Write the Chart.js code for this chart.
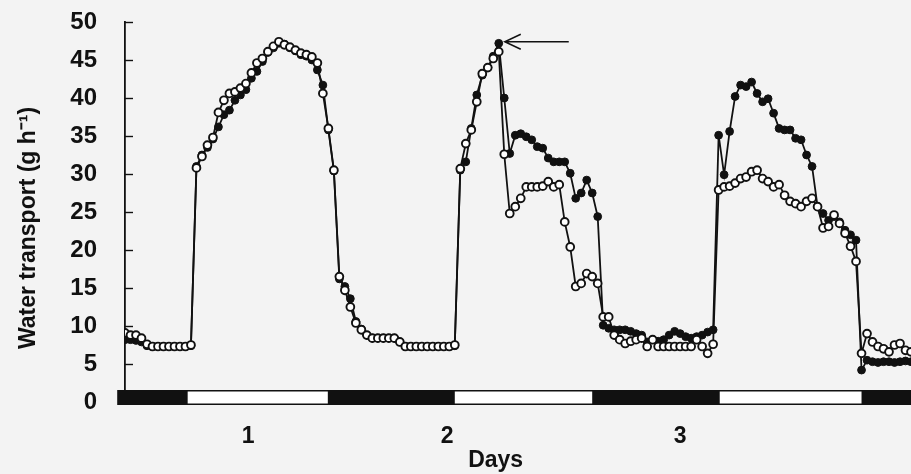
<!DOCTYPE html>
<html>
<head>
<meta charset="utf-8">
<title>Water transport</title>
<script src="https://cdn.jsdelivr.net/npm/chart.js@4.4.0/dist/chart.umd.min.js"></script>
<style>
  html, body { margin: 0; padding: 0; background: #f3f3f3; }
  #wrap { position: relative; width: 911px; height: 474px; }
</style>
</head>
<body>
<div id="wrap"><canvas id="waterChart"></canvas></div>
<script>
// sampling times (hours from start of record, every 30 min)
const hours = [
  0, 0.5, 1, 1.5, 2, 2.5, 3, 3.5, 4, 4.5, 5, 5.5,
  6, 6.5, 7, 7.5, 8, 8.5, 9, 9.5, 10, 10.5, 11, 11.5,
  12, 12.5, 13, 13.5, 14, 14.5, 15, 15.5, 16, 16.5, 17, 17.5,
  18, 18.5, 19, 19.5, 20, 20.5, 21, 21.5, 22, 22.5, 23, 23.5,
  24, 24.5, 25, 25.5, 26, 26.5, 27, 27.5, 28, 28.5, 29, 29.5,
  30, 30.5, 31, 31.5, 32, 32.5, 33, 33.5, 34, 34.5, 35, 35.5,
  36, 36.5, 37, 37.5, 38, 38.5, 39, 39.5, 40, 40.5, 41, 41.5,
  42, 42.5, 43, 43.5, 44, 44.5, 45, 45.5, 46, 46.5, 47, 47.5,
  48, 48.5, 49, 49.5, 50, 50.5, 51, 51.5, 52, 52.5, 53, 53.5,
  54, 54.5, 55, 55.5, 56, 56.5, 57, 57.5, 58, 58.5, 59, 59.5,
  60, 60.5, 61, 61.5, 62, 62.5, 63, 63.5, 64, 64.5, 65, 65.5,
  66, 66.5, 67, 67.5, 68, 68.5, 69, 69.5, 70, 70.5, 71, 71.5
];

// open circles
const openSeries = [
  9.1, 8.8, 8.8, 8.4, 7.6, 7.3, 7.3, 7.3, 7.3, 7.3, 7.3, 7.3,
  7.5, 30.8, 32.3, 33.8, 34.8, 38.1, 39.7, 40.6, 40.8, 41.3, 41.9, 43.3,
  44.6, 45.2, 46.1, 46.8, 47.4, 47.0, 46.7, 46.3, 45.9, 45.7, 45.4, 44.6,
  40.6, 36.0, 30.5, 16.5, 14.7, 12.5, 10.4, 9.5, 8.8, 8.4, 8.4, 8.4,
  8.4, 8.4, 7.9, 7.3, 7.3, 7.3, 7.3, 7.3, 7.3, 7.3, 7.3, 7.3,
  7.5, 30.7, 34.0, 35.8, 39.5, 43.2, 44.0, 45.2, 46.1, 32.6, 24.8, 25.7,
  26.8, 28.3, 28.3, 28.3, 28.4, 29.0, 28.3, 28.6, 23.7, 20.4, 15.2, 15.6,
  16.9, 16.5, 15.6, 11.2, 11.2, 8.8, 8.2, 7.7, 8.0, 8.2, 8.4, 7.3,
  8.2, 7.3, 7.3, 7.3, 7.3, 7.3, 7.3, 7.3, 8.2, 7.3, 6.4, 7.6,
  27.9, 28.3, 28.4, 28.8, 29.4, 29.6, 30.3, 30.5, 29.4, 29.0, 28.3, 28.6,
  27.2, 26.4, 26.1, 25.7, 26.4, 26.8, 25.7, 22.9, 23.1, 24.6, 23.5, 22.2,
  20.5, 18.5, 6.4, 9.0, 7.9, 7.3, 7.0, 6.6, 7.5, 7.7, 6.8, 6.6
];

// filled circles
const filledSeries = [
  8.2, 8.2, 8.1, 7.9, 7.4, 7.3, 7.3, 7.3, 7.3, 7.3, 7.3, 7.3,
  7.4, 31.0, 32.5, 33.5, 34.6, 36.2, 37.8, 38.4, 39.7, 40.4, 41.1, 42.6,
  43.5, 44.8, 46.0, 46.6, 47.2, 47.1, 46.6, 46.2, 45.7, 45.5, 45.0, 43.7,
  41.7, 35.8, 30.4, 16.2, 15.2, 13.6, 10.6, 9.6, 8.8, 8.4, 8.4, 8.4,
  8.4, 8.4, 7.9, 7.3, 7.3, 7.3, 7.3, 7.3, 7.3, 7.3, 7.3, 7.3,
  7.4, 30.5, 31.6, 36.0, 40.4, 43.0, 44.0, 45.5, 47.2, 40.0, 32.7, 35.1,
  35.3, 34.9, 34.5, 33.6, 33.4, 32.1, 31.6, 31.6, 31.6, 30.1, 26.8, 27.5,
  29.2, 27.5, 24.4, 10.1, 9.7, 9.5, 9.5, 9.5, 9.3, 9.0, 8.8, 7.9,
  8.2, 8.0, 8.2, 8.8, 9.3, 9.0, 8.6, 8.4, 8.6, 8.8, 9.2, 9.5,
  35.1, 29.9, 35.6, 40.2, 41.7, 41.5, 42.1, 40.6, 39.5, 39.9, 38.0, 36.0,
  35.8, 35.8, 34.7, 34.5, 32.5, 31.0, 25.7, 24.8, 23.9, 24.4, 23.7, 22.6,
  22.0, 21.3, 4.2, 5.5, 5.3, 5.2, 5.3, 5.3, 5.2, 5.3, 5.4, 5.3
];

// light / dark periods (hours)
const barStart = -0.64;
const lightOn = [5.7, 30.0, 54.1];
const lightOff = [18.45, 42.5, 67.0];

// x tick labels
const dayTicks = [11.2, 29.3, 50.5];
const dayLabels = ['1', '2', '3'];

// arrow points at this sample
const arrowHour = 34;
const arrowValue = 47.2;

const ink = '#111';
Chart.defaults.font.family = "'Liberation Sans', Arial, sans-serif";
Chart.defaults.font.weight = 'bold';
Chart.defaults.color = ink;

function toPoints(values) {
  return hours.map((h, i) => ({ x: h, y: values[i] }));
}

// black = dark, white = light
const dayNightBar = {
  id: 'dayNightBar',
  afterDatasetsDraw(chart) {
    const xs = chart.scales.x;
    const ys = chart.scales.y;
    const ctx = chart.ctx;
    const y0 = ys.getPixelForValue(0);
    const top = y0 - 12;
    const h = 15;
    const left = xs.getPixelForValue(barStart);
    const right = chart.width + 2;
    ctx.save();
    ctx.fillStyle = '#fff';
    ctx.fillRect(left, top, right - left, h);
    ctx.strokeStyle = ink;
    ctx.lineWidth = 1.5;
    ctx.strokeRect(left, top + 0.75, right - left, h - 1.5);
    ctx.fillStyle = ink;
    const starts = [barStart].concat(lightOff);
    const ends = lightOn.concat([xs.max + 1]);
    for (let i = 0; i < starts.length; i++) {
      const a = xs.getPixelForValue(starts[i]);
      const b = xs.getPixelForValue(ends[i]);
      ctx.fillRect(a, top, b - a, h);
    }
    ctx.restore();
  }
};

// tick marks on the inside of the y axis
const innerTicks = {
  id: 'innerTicks',
  afterDraw(chart) {
    const ys = chart.scales.y;
    const ctx = chart.ctx;
    const x0 = chart.chartArea.left;
    ctx.save();
    ctx.strokeStyle = ink;
    ctx.lineWidth = 1.4;
    ys.ticks.forEach(t => {
      if (t.value === 0) return;
      const py = Math.round(ys.getPixelForValue(t.value)) + 0.5;
      ctx.beginPath();
      ctx.moveTo(x0, py);
      ctx.lineTo(x0 + 8, py);
      ctx.stroke();
    });
    ctx.restore();
  }
};

const peakArrow = {
  id: 'peakArrow',
  afterDraw(chart) {
    const ctx = chart.ctx;
    const tipX = chart.scales.x.getPixelForValue(arrowHour) + 6;
    const tipY = chart.scales.y.getPixelForValue(arrowValue) - 1.5;
    ctx.save();
    ctx.strokeStyle = ink;
    ctx.lineWidth = 1.5;
    ctx.beginPath();
    ctx.moveTo(tipX, tipY);
    ctx.lineTo(tipX + 64, tipY);
    ctx.moveTo(tipX + 16, tipY - 7.5);
    ctx.lineTo(tipX, tipY);
    ctx.lineTo(tipX + 16, tipY + 7.5);
    ctx.stroke();
    ctx.restore();
  }
};

new Chart('waterChart', {
  type: 'line',
  data: {
    datasets: [{
      label: 'open',
      data: toPoints(openSeries),
      borderColor: ink,
      borderWidth: 1.8,
      pointRadius: 3.9,
      pointBackgroundColor: '#fff',
      pointBorderColor: ink,
      pointBorderWidth: 1.9,
      tension: 0
    }, {
      label: 'filled',
      data: toPoints(filledSeries),
      borderColor: ink,
      borderWidth: 1.8,
      pointRadius: 3.9,
      pointBackgroundColor: ink,
      pointBorderColor: ink,
      pointBorderWidth: 1,
      tension: 0
    }]
  },
  options: {
    responsive: true,
    maintainAspectRatio: false,
    animation: false,
    layout: { autoPadding: false, padding: { top: 22, left: 0, right: 0, bottom: 0 } },
    plugins: {
      legend: { display: false },
      tooltip: { enabled: false }
    },
    scales: {
      x: {
        type: 'linear',
        min: 0,
        max: 71.5,
        grid: { display: false, drawTicks: false },
        border: { display: false },
        afterBuildTicks: axis => { axis.ticks = dayTicks.map(v => ({ value: v })); },
        afterFit: axis => { axis.height = 72; },
        ticks: {
          autoSkip: false,
          maxRotation: 0,
          padding: 21,
          font: { size: 23 },
          callback: (v, i) => dayLabels[i]
        },
        title: { display: true, text: 'Days       ', font: { size: 23 }, padding: { top: 0, bottom: 0 } }
      },
      y: {
        min: 0,
        max: 50,
        grid: { display: true, drawOnChartArea: false, drawTicks: true, tickLength: 26, tickColor: 'rgba(0,0,0,0)' },
        border: { display: true, color: ink, width: 1.8 },
        afterFit: axis => { axis.width = 125; },
        ticks: { stepSize: 5, padding: 2, font: { size: 24 } },
        title: { display: true, text: 'Water transport (g h⁻¹)     ', font: { size: 23 }, padding: { top: 15, bottom: 0 } }
      }
    }
  },
  plugins: [dayNightBar, innerTicks, peakArrow]
});
</script>
</body>
</html>
